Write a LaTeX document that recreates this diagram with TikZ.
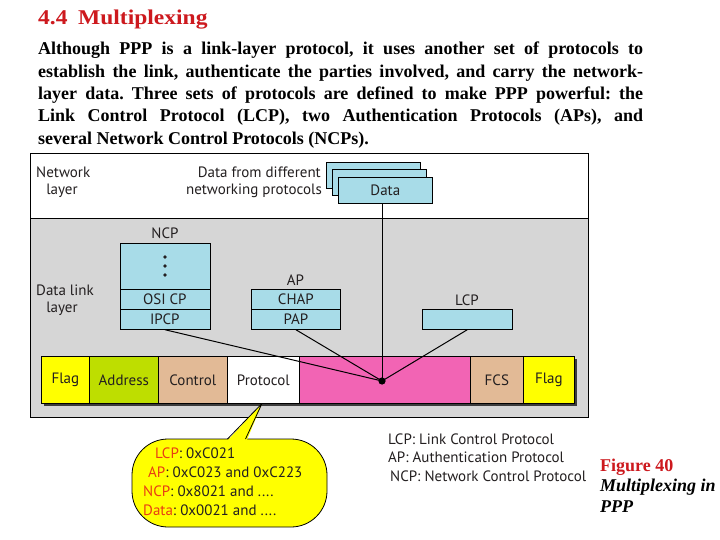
\documentclass[tikz,border=0pt]{standalone}
\usepackage{fontspec}
\setmainfont{Liberation Serif}
\newfontfamily\dsans{PT Sans}
\usepackage{graphicx}
\definecolor{lblue}{RGB}{168,220,232}
\definecolor{bggray}{RGB}{214,214,214}
\definecolor{cyellow}{RGB}{255,255,0}
\definecolor{clime}{RGB}{190,222,0}
\definecolor{ctan}{RGB}{226,186,150}
\definecolor{cpink}{RGB}{242,100,180}
\definecolor{txt}{RGB}{35,31,32}
\definecolor{tred}{RGB}{205,25,30}
\definecolor{lred}{RGB}{232,60,20}
\definecolor{shadowc}{RGB}{60,60,60}
\begin{document}
\frenchspacing
\begin{tikzpicture}[x=1pt,y=-1pt,
  dtext/.style={font=\dsans\fontsize{15}{17}\selectfont, text=txt, inner sep=0pt},
  cell/.style={draw=black, line width=0.7pt, minimum height=47pt, inner sep=0pt, anchor=north west, font=\dsans\fontsize{15}{17}\selectfont, text=txt},
  pbox/.style={draw=black, fill=lblue, line width=0.7pt, inner sep=0pt, anchor=north west, font=\dsans\fontsize{15}{17}\selectfont, text=txt},
  body/.style={anchor=base west, inner sep=0pt, font=\fontsize{18}{22}\selectfont\bfseries},
  conn/.style={line width=1pt, black},
  ]
\useasboundingbox (0,0) rectangle (720,540);
\fill[white] (0,0) rectangle (720,540);

% title
\node[anchor=base west, inner sep=0pt, text=tred] (title) at (38,25)
  {\scalebox{1.12}[1]{\fontsize{21}{25}\selectfont\bfseries 4.4\hspace{0.45em}Multiplexing}};

% body text
\node[body] (l1) at (38,55) {\makebox[605pt][s]{Although PPP is a link-layer protocol, it uses another set of protocols to}};
\node[body] (l2) at (38,77.3) {\makebox[605pt][s]{establish the link, authenticate the parties involved, and carry the network-}};
\node[body] (l3) at (38,99.6) {\makebox[605pt][s]{layer data. Three sets of protocols are defined to make PPP powerful: the}};
\node[body] (l4) at (38,121.9) {\makebox[605pt][s]{Link Control Protocol (LCP), two Authentication Protocols (APs), and}};
\node[body] (l5) at (38,144.2) {several Network Control Protocols (NCPs).};

% frame
\fill[white] (30,153) rectangle (588,218);
\fill[bggray] (30,218) rectangle (588,417);
\draw[line width=0.8pt] (30,153) rectangle (588,417);
\draw[line width=0.8pt] (30,218) -- (588,218);

% layer labels
\node[dtext, anchor=base west] (nl1) at (36,178) {Network};
\node[dtext, anchor=base] (nl2) at (62,195) {layer};
\node[dtext, anchor=base west] (dl1) at (36,295) {Data link};
\node[dtext, anchor=base] (dl2) at (62,312) {layer};
\node[dtext, anchor=base east] (df1) at (321,178) {Data from different};
\node[dtext, anchor=base east] (df2) at (322,195) {networking protocols};

% data boxes
\node[pbox, minimum width=94pt, minimum height=26pt] (data3) at (326,162) {};
\node[pbox, minimum width=94pt, minimum height=26pt] (data2) at (332,169.5) {};
\node[pbox, minimum width=94pt, minimum height=26pt] (data) at (338,177) {Data};

% NCP
\node[dtext] (ncplbl) at (165,233) {NCP};
\node[pbox, minimum width=90pt, minimum height=46pt] (ncpdots) at (119.5,243) {};
\fill[txt] (165,257) circle (1.9pt) (165,266) circle (1.9pt) (165,275) circle (1.9pt);
\node[pbox, minimum width=90pt, minimum height=20pt] (osicp) at (119.5,289) {OSI CP};
\node[pbox, minimum width=90pt, minimum height=20pt] (ipcp) at (119.5,309) {IPCP};

% AP
\node[dtext] (aplbl) at (295.5,280) {AP};
\node[pbox, minimum width=89pt, minimum height=20pt] (chap) at (251,289) {CHAP};
\node[pbox, minimum width=89pt, minimum height=20pt] (pap) at (251,309) {PAP};

% LCP
\node[dtext] (lcplbl) at (467,300) {LCP};
\node[pbox, minimum width=90pt, minimum height=20pt] (lcp) at (422,309) {};

% frame cells
\fill[shadowc] (44,359) rectangle (577,406);
\node[cell, fill=cyellow, minimum width=48pt] (flag1) at (41,356) {Flag};
\node[cell, fill=clime, minimum width=69pt] (addr) at (89,356) {Address};
\node[cell, fill=ctan, minimum width=69pt] (ctrl) at (158,356) {Control};
\node[cell, fill=white, minimum width=72pt] (proto) at (227,356) {Protocol};
\node[cell, fill=cpink, minimum width=171pt] (payload) at (299,356) {};
\node[cell, fill=ctan, minimum width=53pt] (fcs) at (470,356) {FCS};
\node[cell, fill=cyellow, minimum width=51pt] (flag2) at (523,356) {Flag};
\draw[line width=0.8pt] (flag1.north west) rectangle (flag2.south east);

% connectors
\coordinate (dot) at (382,381);
\draw[conn] (dot |- data.south) -- (dot);
\draw[conn] (ipcp.south) -- (dot);
\draw[conn] (pap.south) -- (dot);
\draw[conn] (lcp.south) -- (dot);
\fill[black] (dot) circle (3.6pt);

% callout
\node[draw=black, line width=0.8pt, fill=cyellow, rounded corners=36pt, minimum width=195pt, minimum height=88pt, inner sep=0pt] (bubble) at (229.5,483) {};
\coordinate (tip) at (262,403.5);
\fill[cyellow] (227,441) -- (tip) -- (246.5,441) -- cycle;
\draw[line width=0.8pt, line join=round] (227.5,439) -- (tip) -- (245.5,439);
\node[dtext, anchor=base west] (b1) at (155,458) {\textcolor{lred}{LCP}: 0xC021};
\node[dtext, anchor=base west] (b2) at (148,477) {\textcolor{lred}{AP}: 0xC023 and 0xC223};
\node[dtext, anchor=base west] (b3) at (143,496.5) {\textcolor{lred}{NCP}: 0x8021 and ....};
\node[dtext, anchor=base west] (b4) at (143,515) {\textcolor{lred}{Data}: 0x0021 and ....};

% legend
\node[dtext, anchor=base west] (g1) at (388,444.5) {LCP: Link Control Protocol};
\node[dtext, anchor=base west] (g2) at (388,462.5) {AP: Authentication Protocol};
\node[dtext, anchor=base west] (g3) at (390,481) {NCP: Network Control Protocol};

% caption
\node[anchor=base west, inner sep=0pt, text=tred, font=\fontsize{18}{21}\selectfont\bfseries] (fig) at (600,471) {Figure 40};
\node[anchor=base west, inner sep=0pt, font=\fontsize{18}{21}\selectfont\bfseries\itshape] (cap1) at (600,491) {Multiplexing in};
\node[anchor=base west, inner sep=0pt, font=\fontsize{18}{21}\selectfont\bfseries\itshape] (cap2) at (600,512) {PPP};
\end{tikzpicture}
\end{document}
